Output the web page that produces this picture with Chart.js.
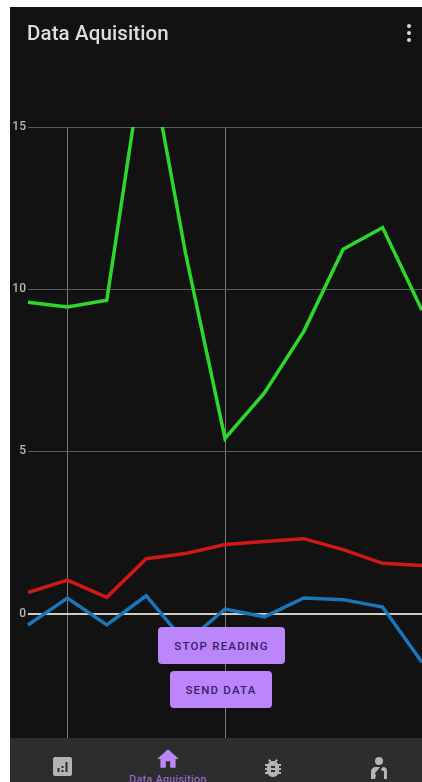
<!DOCTYPE html>
<html>
<head>
<meta charset="utf-8">
<title>Data Aquisition</title>
<script src="https://cdn.jsdelivr.net/npm/chart.js@4"></script>
<style>
  html, body { margin: 0; padding: 0; width: 422px; height: 782px; background: #fff; overflow: hidden; font-family: Roboto, sans-serif; }
  #screen { position: absolute; left: 10px; top: 7px; width: 412px; height: 775px; background: #121212; }
  /* 10px taller than the plot: the x axis keeps that strip, hidden under the nav bar */
  #chartBox { position: absolute; left: 0; top: 0; width: 422px; height: 748px; }
  #title { position: absolute; left: 27px; top: 21px; font-size: 20.5px; line-height: 24px; font-weight: 500; letter-spacing: .12px; color: #dedede; }
  #menu { position: absolute; left: 404px; top: 22px; }
  .btn { position: absolute; background: #bb86fc; color: #3a2165; border-radius: 4px; font-size: 11.5px; font-weight: 500; letter-spacing: 1.2px; text-align: center; height: 37px; line-height: 39px; }
  #stopBtn { left: 158px; top: 627px; width: 127px; }
  #sendBtn { left: 170px; top: 671px; width: 102px; }
  #nav { position: absolute; left: 10px; top: 738px; width: 412px; height: 44px; background: #2d2d2d; overflow: hidden; }
  #nav svg { position: absolute; }
  #navLabel { position: absolute; left: 108px; width: 100px; top: 35px; text-align: center; font-size: 10.5px; line-height: 14px; letter-spacing: .4px; color: #a678e0; white-space: nowrap; }
</style>
</head>
<body>
<div id="screen"></div>
<div id="chartBox"><canvas id="dataChart"></canvas></div>
<div id="title">Data Aquisition</div>
<svg id="menu" width="10" height="22" viewBox="0 0 10 22"><circle cx="5" cy="4" r="2" fill="#d8d8d8"/><circle cx="5" cy="11" r="2" fill="#d8d8d8"/><circle cx="5" cy="18" r="2" fill="#d8d8d8"/></svg>
<div class="btn" id="stopBtn">STOP READING</div>
<div class="btn" id="sendBtn">SEND DATA</div>
<div id="nav">
  <svg style="left:43px;top:19px" width="19" height="19" viewBox="0 0 19 19"><rect width="19" height="19" rx="2" fill="#b4b4b4"/><rect x="4.5" y="11" width="2" height="4" fill="#2d2d2d"/><rect x="8.5" y="9" width="2" height="2" fill="#2d2d2d"/><rect x="8.5" y="13" width="2" height="2" fill="#2d2d2d"/><rect x="12.5" y="5" width="2" height="10" fill="#2d2d2d"/></svg>
  <svg style="left:145px;top:8px" width="26" height="26" viewBox="0 0 24 24"><path fill="#bb86fc" d="M10 20v-6h4v6h5v-8h3L12 3 2 12h3v8z"/></svg>
  <svg style="left:251px;top:18px" width="24" height="24" viewBox="0 0 24 24"><path fill="#b4b4b4" d="M20 8h-2.81c-.45-.78-1.07-1.45-1.82-1.96L17 4.41 15.59 3l-2.17 2.17C12.96 5.06 12.49 5 12 5c-.49 0-.96.06-1.41.17L8.41 3 7 4.41l1.62 1.63C7.88 6.55 7.26 7.22 6.81 8H4v2h2.09c-.05.33-.09.66-.09 1v1H4v2h2v1c0 .34.04.67.09 1H4v2h2.81c1.04 1.79 2.97 3 5.19 3s4.15-1.21 5.19-3H20v-2h-2.09c.05-.33.09-.66.09-1v-1h2v-2h-2v-1c0-.34-.04-.67-.09-1H20V8zm-6 8h-4v-2h4v2zm0-4h-4v-2h4v2z"/></svg>
  <svg style="left:360px;top:18px" width="18" height="23" viewBox="0 0 18 23"><circle cx="9" cy="5" r="4" fill="#b4b4b4"/><path fill="#b4b4b4" d="M1 23v-7c0-3 2-5 5-5h4l-3 4c-1 .5-2 2-2 3l1 1-1 4zM13 11c3 0 4 2 4 4v8h-3v-8h-2l-1-2z"/></svg>
  <div id="navLabel">Data Aquisition</div>
</div>
<script>
// values
const sampleLabels = ['0', '1', '2', '3', '4', '5', '6', '7', '8', '9', '10'];
const greenValues = [9.6, 9.45, 9.66, 17.7, 11.1, 5.4, 6.8, 8.7, 11.23, 11.9, 9.35];
const redValues = [0.65, 1.03, 0.5, 1.69, 1.85, 2.13, 2.22, 2.31, 1.97, 1.55, 1.48];
const blueValues = [-0.35, 0.48, -0.35, 0.55, -0.9, 0.14, -0.1, 0.48, 0.43, 0.2, -1.5];
const yTicks = [0, 5, 10, 15];
const xGridLabels = ['1', '5'];

const ctx = document.getElementById('dataChart').getContext('2d');

function lineSet(values, color) {
    return { data: values, borderColor: color, borderWidth: 3.5, pointRadius: 0, fill: false, tension: 0 };
}

new Chart(ctx, {
    type: 'line',
    data: {
        labels: sampleLabels,
        datasets: [
            lineSet(greenValues, '#2bd92b'),
            lineSet(redValues, '#d01818'),
            lineSet(blueValues, '#1a76b8')
        ]
    },
    options: {
        responsive: true,
        maintainAspectRatio: false,
        animation: false,
        layout: { autoPadding: false, padding: { top: 127, right: 0, bottom: 0, left: 0 } },
        plugins: { legend: { display: false }, tooltip: { enabled: false } },
        scales: {
            x: {
                offset: false,
                afterFit: axis => { axis.height = 0; },
                border: { display: false },
                grid: {
                    drawTicks: false,
                    lineWidth: 1,
                    color: c => xGridLabels.includes(sampleLabels[c.index]) ? '#7a7a7a' : 'transparent'
                },
                ticks: { display: false }
            },
            y: {
                min: -3.86,
                max: 15,
                afterBuildTicks: axis => { axis.ticks = yTicks.map(v => ({ value: v })); },
                afterFit: axis => { axis.width = 28; },
                border: { display: false },
                grid: {
                    drawTicks: false,
                    color: c => c.tick && c.tick.value === 0 ? '#cfcbc6' : '#5c5c5c',
                    lineWidth: c => c.tick && c.tick.value === 0 ? 2 : 1
                },
                ticks: { color: '#b8b8b8', padding: 2, font: { family: 'Roboto', size: 12, weight: '500' } }
            }
        }
    }
});
</script>
</body>
</html>
